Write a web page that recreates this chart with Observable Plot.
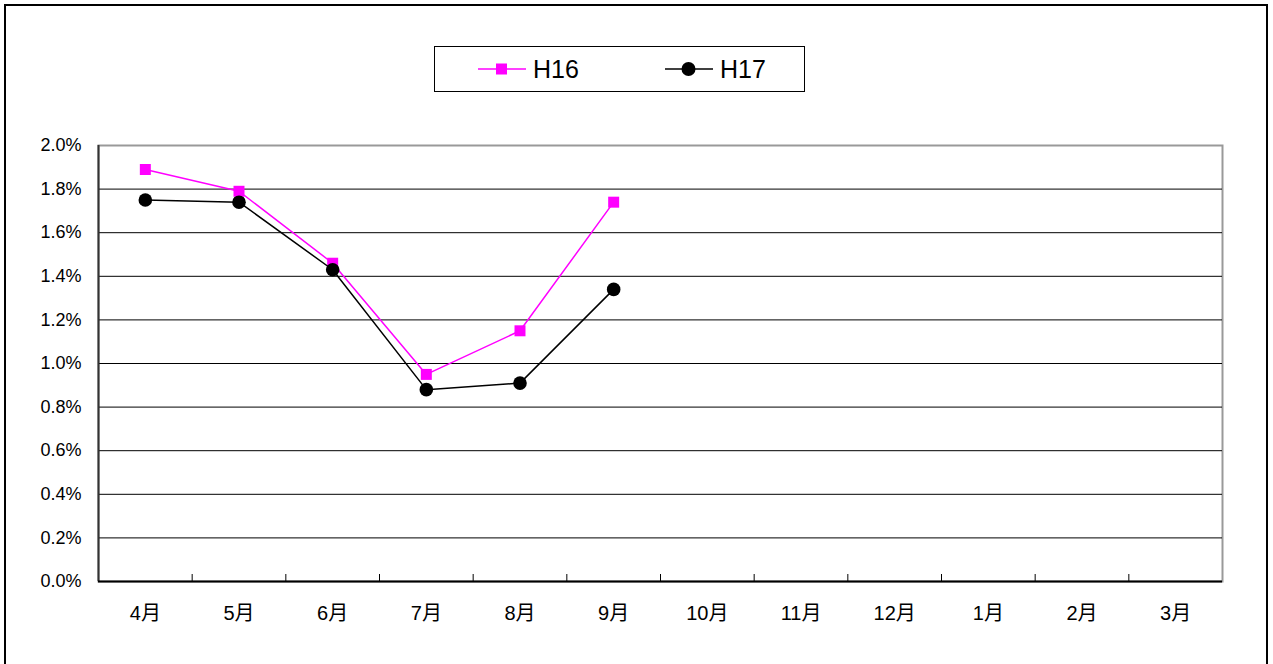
<!DOCTYPE html>
<html>
<head>
<meta charset="utf-8">
<script src="https://cdn.jsdelivr.net/npm/d3@7"></script>
<script src="https://cdn.jsdelivr.net/npm/@observablehq/plot@0.6"></script>
<style>
  html, body { margin: 0; padding: 0; background: #fff; overflow: hidden; width: 1273px; height: 664px; }
  body { font-family: "Liberation Sans", Arial, "Noto Sans CJK JP", sans-serif; position: relative; }
  #frame { position: absolute; left: 4px; top: 4px; width: 1264px; height: 700px; border: 2px solid #000; box-sizing: border-box; }
  #legend { position: absolute; left: 434px; top: 46px; width: 371px; height: 46px; border: 1px solid #000; box-sizing: border-box; background: #fff;
            display: flex; align-items: center; padding-left: 43px; overflow: visible; }
  .item { display: flex; align-items: center; width: 187px; flex: 0 0 187px; }
  .item svg { flex: 0 0 auto; }
  .item span { font-size: 25px; margin-left: 7px; line-height: 1; }
  #chart { position: absolute; left: 0; top: 120px; }
</style>
</head>
<body>
<div id="frame"></div>
<div id="legend"></div>
<div id="chart"></div>
<script>
const months = ["4月","5月","6月","7月","8月","9月","10月","11月","12月","1月","2月","3月"];
const seriesNames = ["H16", "H17"];
const h16 = [1.89, 1.79, 1.46, 0.95, 1.15, 1.74];
const h17 = [1.75, 1.74, 1.43, 0.88, 0.91, 1.34];
const yTicks = [0, 0.2, 0.4, 0.6, 0.8, 1.0, 1.2, 1.4, 1.6, 1.8, 2.0];

const colors = {H16: "#ff00ff", H17: "#000000"};
const symbols = {H16: "square", H17: "circle"};

// legend
const legend = document.getElementById("legend");
for (const name of seriesNames) {
  const item = document.createElement("div");
  item.className = "item";
  const ns = "http://www.w3.org/2000/svg";
  const svg = document.createElementNS(ns, "svg");
  svg.setAttribute("width", 48); svg.setAttribute("height", 16);
  const ln = document.createElementNS(ns, "line");
  ln.setAttribute("x1", 0); ln.setAttribute("x2", 48); ln.setAttribute("y1", 8); ln.setAttribute("y2", 8);
  ln.setAttribute("stroke", colors[name]); ln.setAttribute("stroke-width", 1.5);
  svg.appendChild(ln);
  if (symbols[name] === "square") {
    const r = document.createElementNS(ns, "rect");
    r.setAttribute("x", 18); r.setAttribute("y", 2.5); r.setAttribute("width", 11); r.setAttribute("height", 11);
    r.setAttribute("fill", colors[name]);
    svg.appendChild(r);
  } else {
    const c = document.createElementNS(ns, "circle");
    c.setAttribute("cx", 23.5); c.setAttribute("cy", 8); c.setAttribute("r", 7);
    c.setAttribute("fill", colors[name]);
    svg.appendChild(c);
  }
  item.appendChild(svg);
  const t = document.createElement("span");
  t.textContent = name;
  item.appendChild(t);
  legend.appendChild(item);
}

const xOf = (d, i) => i + 0.5;
const chart = Plot.plot({
  width: 1273,
  height: 544,
  marginLeft: 98,
  marginRight: 51,
  marginTop: 25,
  marginBottom: 83,
  x: {domain: [0, months.length]},
  y: {domain: [0, 2]},
  style: {fontFamily: '"Liberation Sans", Arial, "Noto Sans CJK JP", sans-serif', fontSize: "18px", color: "#000", background: "transparent"},
  marks: [
    Plot.frame({stroke: "#999", strokeWidth: 2}),
    Plot.gridY(yTicks.filter(v => v > 0 && v < 2), {stroke: "#000", strokeOpacity: 1, strokeWidth: 1}),
    Plot.axisY({ticks: yTicks, tickFormat: d => d.toFixed(1) + "%", tickSize: 0, tickPadding: 17, label: null, fontSize: 18}),
    Plot.ruleX([0], {stroke: "#333", strokeWidth: 2}),
    Plot.ruleY([0], {stroke: "#000", strokeWidth: 2}),
    Plot.axisX({ticks: months.map((m, i) => i + 0.5), tickFormat: d => months[Math.floor(d)], tickSize: 0, tickPadding: 24, label: null, fontSize: 20}),
    Plot.axisX({ticks: d3.range(1, months.length), tickSize: 7, dy: -7, tickFormat: () => "", label: null}),
    Plot.line(h16, {x: xOf, y: d => d, stroke: colors.H16, strokeWidth: 1.5}),
    Plot.dot(h16, {x: xOf, y: d => d, symbol: "square", r: 6.2, fill: colors.H16}),
    Plot.line(h17, {x: xOf, y: d => d, stroke: colors.H17, strokeWidth: 1.5}),
    Plot.dot(h17, {x: xOf, y: d => d, symbol: "circle", r: 6.8, fill: colors.H17})
  ]
});
document.getElementById("chart").appendChild(chart);
</script>
</body>
</html>
